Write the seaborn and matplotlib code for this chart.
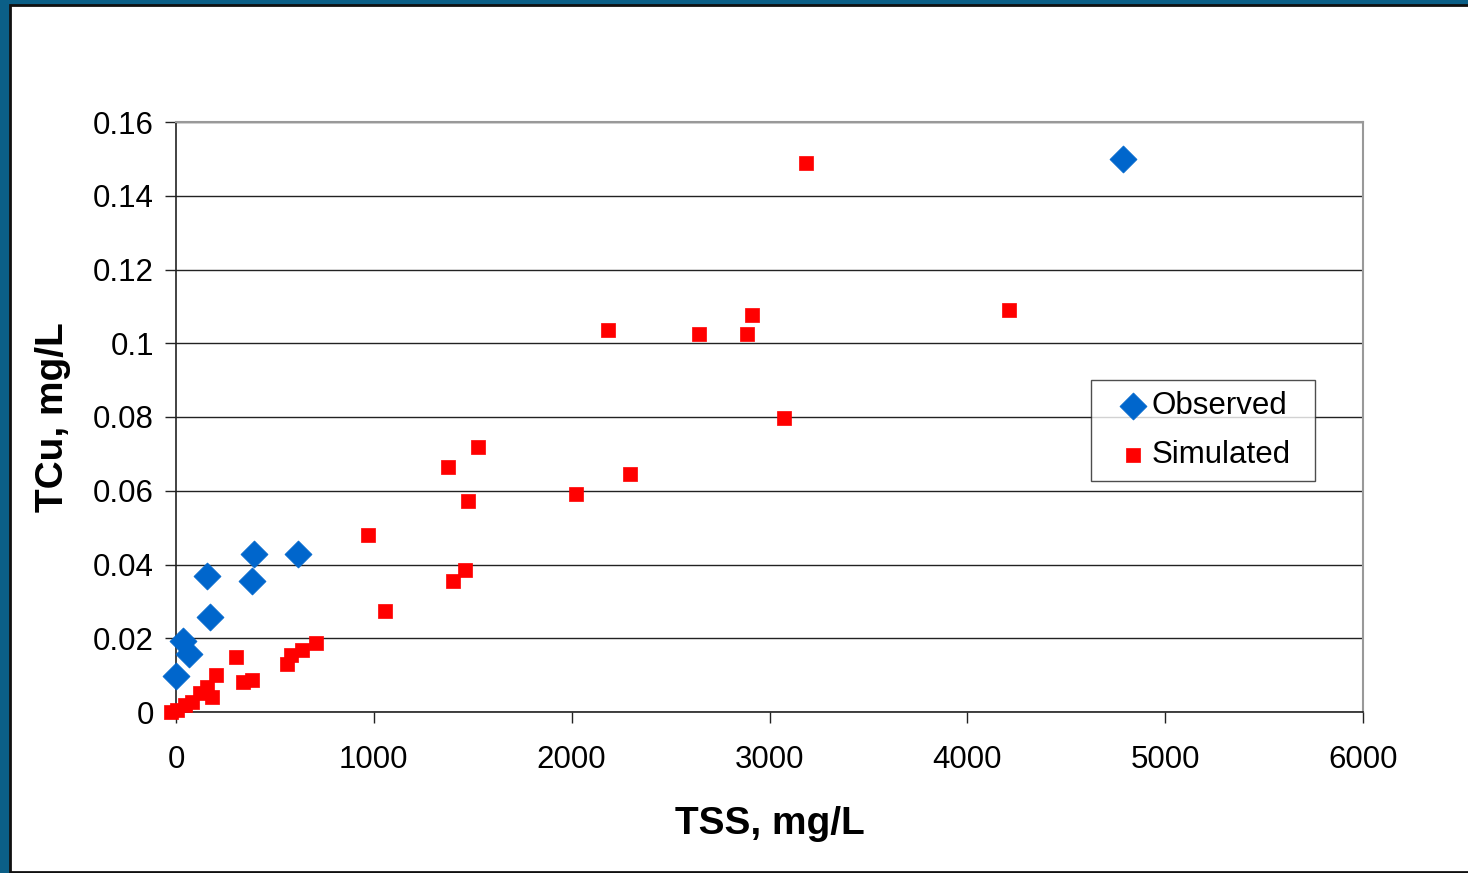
import matplotlib
matplotlib.use("Agg")
import matplotlib.pyplot as plt
import seaborn as sns
import pandas as pd
from matplotlib.patches import Rectangle

obs_tss = [0, 35, 66, 157, 172, 383, 394, 615, 4787]
obs_tcu = [0.0098, 0.0193, 0.0157, 0.0369, 0.0257, 0.0356, 0.0429, 0.0429, 0.150]

sim_tss = [3185, 2184, 2644, 2886, 2912, 4211, 3073, 1375, 1527, 1476, 2022, 2295,
           971, 1056, 1400, 1461, 708, 636, 581, 560, 303, 338, 386, 202, 155,
           180, 121, 80, 47, 3, -23]
sim_tcu = [0.1489, 0.1036, 0.1025, 0.1025, 0.1077, 0.1090, 0.0797, 0.0664, 0.0719,
           0.0572, 0.0591, 0.0645, 0.0480, 0.0274, 0.0355, 0.0385, 0.0187, 0.0168,
           0.0155, 0.0130, 0.0148, 0.0081, 0.0087, 0.0100, 0.0068, 0.0042, 0.0052,
           0.0028, 0.0019, 0.0005, 0.0000]

x_ticks = [0, 1000, 2000, 3000, 4000, 5000, 6000]
y_ticks = [0, 0.02, 0.04, 0.06, 0.08, 0.1, 0.12, 0.14, 0.16]
y_labels = ["0", "0.02", "0.04", "0.06", "0.08", "0.1", "0.12", "0.14", "0.16"]

sns.set_theme(style="white")
plt.rcParams['font.family'] = ['Liberation Sans', 'DejaVu Sans']
plt.rcParams['text.color'] = 'black'
plt.rcParams['axes.labelcolor'] = 'black'
plt.rcParams['xtick.color'] = 'black'
plt.rcParams['ytick.color'] = 'black'

fig = plt.figure(figsize=(14.68, 8.73), dpi=100)
fig.patch.set_facecolor('#0b5f87')
W, H = 1468, 873
bg = Rectangle((10 / W, 1 / H), (W + 20) / W, (H - 6) / H,
               transform=fig.transFigure, facecolor='white',
               edgecolor='#111111', linewidth=2, zorder=-10)
fig.patches.append(bg)

ax = fig.add_axes([176 / W, 1 - 712 / H, (1363 - 176) / W, (712 - 122) / H])
ax.set_facecolor('white')
ax.set_zorder(5)

obs = pd.DataFrame({"TSS": obs_tss, "TCu": obs_tcu})
sim = pd.DataFrame({"TSS": sim_tss, "TCu": sim_tcu})

sns.scatterplot(data=obs, x="TSS", y="TCu", ax=ax, marker="D", color="#0066cc",
                s=190, edgecolor="#0066cc", linewidth=0.5, label="Observed", zorder=3,
                clip_on=False)
sns.scatterplot(data=sim, x="TSS", y="TCu", ax=ax, marker="s", color="#ff0000",
                s=110, edgecolor="#ff0000", linewidth=0.5, label="Simulated", zorder=4,
                clip_on=False)

ax.set_xlim(0, 6000)
ax.set_ylim(0, 0.16)
ax.set_xticks(x_ticks)
ax.set_xticklabels([str(t) for t in x_ticks])
ax.set_yticks(y_ticks)
ax.set_yticklabels(y_labels)
ax.yaxis.grid(True, color='#222222', linewidth=1)
ax.xaxis.grid(False)
ax.set_axisbelow(True)

for side in ['top', 'right']:
    ax.spines[side].set_color('#999999')
    ax.spines[side].set_linewidth(1.5)
for side in ['left', 'bottom']:
    ax.spines[side].set_color('#222222')
    ax.spines[side].set_linewidth(1.2)

ax.tick_params(axis='both', which='major', direction='out', length=8, width=1,
               color='#222222', labelsize=22.5, labelcolor='black', left=True, bottom=True)
ax.tick_params(axis='x', pad=16)
ax.tick_params(axis='y', pad=8)

ax.set_xlabel("TSS, mg/L", fontsize=28, fontweight='bold', labelpad=22, color='black')
ax.set_ylabel("TCu, mg/L", fontsize=28, fontweight='bold', labelpad=16, color='black')

axw, axh = 1363 - 176, 712 - 122
leg = ax.legend(loc='upper left',
                bbox_to_anchor=((1091 - 176) / axw, (712 - 481) / axh, (1315 - 1091) / axw, (481 - 380) / axh),
                mode='expand', borderaxespad=0, fontsize=22.5, frameon=True, fancybox=False,
                edgecolor='#222222', handletextpad=-0.42, borderpad=0.35, labelspacing=0.62,
                handlelength=2.0, markerscale=1.0)
leg.get_frame().set_linewidth(1.0)
for t in leg.get_texts():
    t.set_color('black')

fig.savefig("out.png", dpi=100, facecolor=fig.get_facecolor())
